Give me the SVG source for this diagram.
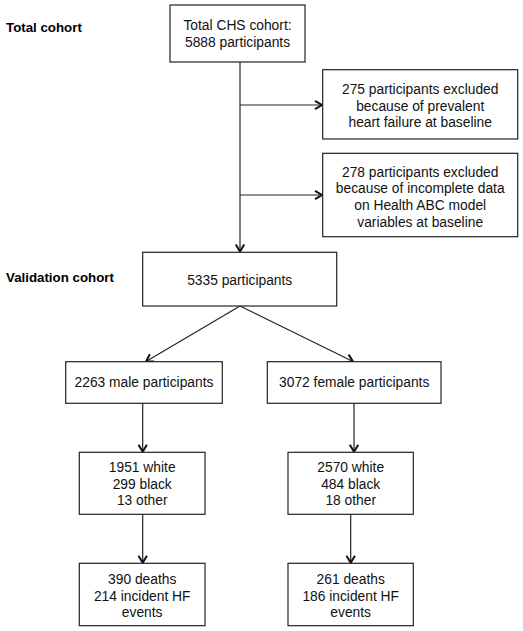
<svg xmlns="http://www.w3.org/2000/svg" width="523" height="631" viewBox="0 0 523 631">
<defs>
<style>
.box{fill:#fff;stroke:#222;stroke-width:1.2}
.t{font-family:"Liberation Sans",Arial,sans-serif;font-size:13.8px;fill:#111;text-anchor:middle}
.lbl{font-family:"Liberation Sans",Arial,sans-serif;font-size:13.3px;font-weight:bold;fill:#000}
.c{stroke:#222;stroke-width:1.2;fill:none}
</style>
<marker id="ah" markerUnits="userSpaceOnUse" markerWidth="12" markerHeight="12" refX="8" refY="5" orient="auto" overflow="visible">
<path d="M1,0.8 L8,5 L1,9.2" fill="none" stroke="#111" stroke-width="2"/>
</marker>
</defs>
<rect width="523" height="631" fill="#fff"/>
<text class="lbl" x="6" y="32">Total cohort</text>
<text class="lbl" x="6" y="282">Validation cohort</text>
<g id="connectors">
<line class="c" x1="240" y1="62" x2="240" y2="251.5" marker-end="url(#ah)"/>
<line class="c" x1="240" y1="105" x2="322" y2="105" marker-end="url(#ah)"/>
<line class="c" x1="240" y1="195" x2="322" y2="195" marker-end="url(#ah)"/>
<line class="c" x1="240" y1="306" x2="146" y2="361.5" marker-end="url(#ah)"/>
<line class="c" x1="240" y1="306" x2="353" y2="361.5" marker-end="url(#ah)"/>
<line class="c" x1="142.7" y1="403.3" x2="142.7" y2="451.8" marker-end="url(#ah)"/>
<line class="c" x1="354" y1="403.3" x2="354" y2="451.8" marker-end="url(#ah)"/>
<line class="c" x1="142.7" y1="514.3" x2="142.7" y2="562.8" marker-end="url(#ah)"/>
<line class="c" x1="350.7" y1="514.3" x2="350.7" y2="562.8" marker-end="url(#ah)"/>
</g>
<g id="total">
<rect class="box" x="170" y="5" width="135" height="57"/>
<text class="t" x="237.5" y="30">Total CHS cohort:</text>
<text class="t" x="237.5" y="47">5888 participants</text>
</g>
<g id="excl1">
<rect class="box" x="322.7" y="69.7" width="195" height="69.3"/>
<text class="t" x="420.2" y="94">275 participants excluded</text>
<text class="t" x="420.2" y="110.7">because of prevalent</text>
<text class="t" x="420.2" y="127.4">heart failure at baseline</text>
</g>
<g id="excl2">
<rect class="box" x="322.7" y="153.3" width="195" height="83.4"/>
<text class="t" x="420.2" y="176.5">278 participants excluded</text>
<text class="t" x="420.2" y="193.2">because of incomplete data</text>
<text class="t" x="420.2" y="209.9">on Health ABC model</text>
<text class="t" x="420.2" y="226.6">variables at baseline</text>
</g>
<g id="validation">
<rect class="box" x="142.7" y="252.3" width="194" height="53.7"/>
<text class="t" x="239.7" y="284.5">5335 participants</text>
</g>
<g id="male">
<rect class="box" x="65.7" y="361.7" width="156.6" height="41.6"/>
<text class="t" x="144" y="387.3">2263 male participants</text>
</g>
<g id="female">
<rect class="box" x="267.3" y="361.7" width="173.7" height="41.6"/>
<text class="t" x="354.2" y="387.3">3072 female participants</text>
</g>
<g id="male-race">
<rect class="box" x="79.3" y="452.3" width="125.7" height="62"/>
<text class="t" x="142.2" y="472">1951 white</text>
<text class="t" x="142.2" y="488.7">299 black</text>
<text class="t" x="142.2" y="505.4">13 other</text>
</g>
<g id="female-race">
<rect class="box" x="288" y="452.3" width="125.3" height="62"/>
<text class="t" x="350.7" y="472">2570 white</text>
<text class="t" x="350.7" y="488.7">484 black</text>
<text class="t" x="350.7" y="505.4">18 other</text>
</g>
<g id="male-outcome">
<rect class="box" x="79.3" y="563.3" width="125.7" height="62.4"/>
<text class="t" x="142.2" y="584">390 deaths</text>
<text class="t" x="142.2" y="600.7">214 incident HF</text>
<text class="t" x="142.2" y="617.4">events</text>
</g>
<g id="female-outcome">
<rect class="box" x="288" y="563.3" width="125.3" height="62.4"/>
<text class="t" x="350.7" y="584">261 deaths</text>
<text class="t" x="350.7" y="600.7">186 incident HF</text>
<text class="t" x="350.7" y="617.4">events</text>
</g>
</svg>
